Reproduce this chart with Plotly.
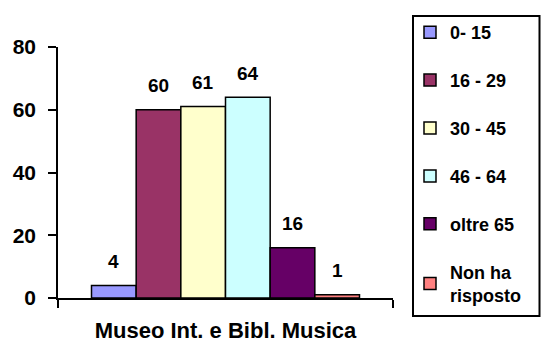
import plotly.graph_objects as go

category = ["Museo Int. e Bibl. Musica"]
series_names = ["0- 15", "16 - 29", "30 - 45", "46 - 64", "oltre 65", "Non ha<br>risposto"]
series_values = [4, 60, 61, 64, 16, 1]
series_colors = ["#9999FF", "#993366", "#FFFFCC", "#CCFFFF", "#660066", "#FF8080"]
y_ticks = [0, 20, 40, 60, 80]

FONT = "Liberation Sans, Arial, sans-serif"
BARGAP = 0.2

fig = go.Figure()
for i, (name, val, col) in enumerate(zip(series_names, series_values, series_colors)):
    fig.add_trace(go.Bar(
        x=category, y=[val], name=name, legendgroup=str(i),
        marker=dict(color=col, line=dict(color="black", width=1.5)),
    ))

n = len(series_values)
w = (1 - BARGAP) / n
for i, val in enumerate(series_values):
    fig.add_annotation(
        x=-0.5 + BARGAP / 2 + (i + 0.5) * w, y=val, xref="x", yref="y",
        text=f"<b>{val}</b>", showarrow=False, yshift=24,
        font=dict(family=FONT, size=19, color="black"),
    )

fig.update_layout(
    width=541, height=345,
    margin=dict(l=58, r=148, t=47, b=47, autoexpand=False),
    paper_bgcolor="white", plot_bgcolor="white",
    barmode="group", bargap=BARGAP, bargroupgap=0,
    font=dict(family=FONT, color="black"),
    showlegend=True,
    legend=dict(
        xref="container", yref="container",
        x=410 / 541, y=1 - 14 / 345, xanchor="left", yanchor="top",
        font=dict(family=FONT, size=18, color="black", weight="bold"),
        borderwidth=0, bgcolor="rgba(0,0,0,0)",
        tracegroupgap=21.5, traceorder="grouped", maxheight=340,
    ),
    shapes=[dict(type="rect", xref="paper", yref="paper",
                 x0=(413 - 58) / 335, x1=(539.5 - 58) / 335,
                 y0=(298 - 316) / 251, y1=1 + (47 - 16) / 251,
                 line=dict(color="black", width=2), fillcolor="rgba(0,0,0,0)")],
)

fig.update_xaxes(
    type="category", showline=True, linecolor="black", linewidth=1.5,
    ticks="outside", tickson="boundaries", ticklen=8, tickwidth=1.5, tickcolor="black",
    tickfont=dict(family=FONT, size=22, color="black", weight="bold"),
    ticklabelstandoff=12, showgrid=False, zeroline=False, automargin=False,
)
fig.update_yaxes(
    range=[0, 80], tickvals=y_ticks, showline=True, linecolor="black", linewidth=1.5,
    ticks="outside", ticklen=8, tickwidth=1.5, tickcolor="black",
    tickfont=dict(family=FONT, size=21, color="black", weight="bold"),
    ticklabelstandoff=8, showgrid=False, zeroline=False, automargin=False,
)

fig.write_html(
    "out.html",
    config={"displayModeBar": False},
    post_script="document.body.style.margin='0';document.body.style.overflow='hidden';",
)
